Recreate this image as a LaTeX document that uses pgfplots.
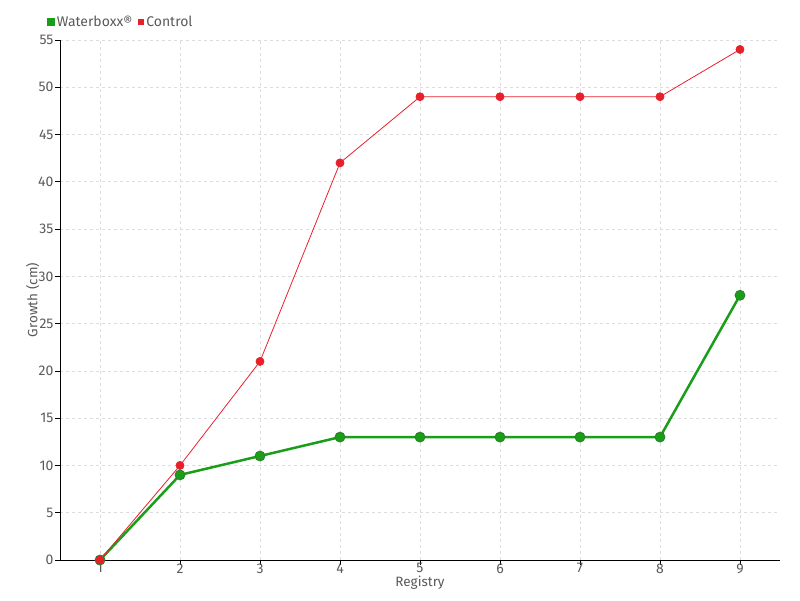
\documentclass[border=0pt]{standalone}
\usepackage{pgfplots}
\pgfplotsset{compat=1.18}
\usepackage{fontspec}
\setmainfont{Fira Sans}
\definecolor{txt}{HTML}{5A5A5A}
\definecolor{grn}{HTML}{1A9E1A}
\definecolor{grnd}{HTML}{2E7D2E}
\definecolor{rd}{HTML}{E8202A}
\definecolor{gridc}{HTML}{DDDDDD}
\begin{document}
\begin{tikzpicture}[x=1pt,y=1pt]
\useasboundingbox (0,0) rectangle (800,600);
\begin{axis}[
  at={(60pt,40pt)}, anchor=south west,
  scale only axis, width=720pt, height=520pt,
  xmin=0.5, xmax=9.5, ymin=0, ymax=55,
  xtick={1,...,9}, ytick={0,5,...,55},
  axis x line*=bottom, axis y line*=left,
  axis line style={black, line width=1pt},
  tick style={black, line width=0.8pt},
  tick align=outside, major tick length=5pt,
  grid=major,
  major grid style={gridc, dashed, line width=0.8pt},
  tick label style={font=\fontsize{14}{14}\selectfont, text=txt},
  xticklabel style={yshift=5pt},
  yticklabel style={xshift=2pt},
  /pgf/number format/assume math mode=true,
  xlabel={Registry}, ylabel={Growth (cm)},
  label style={font=\fontsize{13.5}{13.5}\selectfont, text=txt},
  xlabel style={yshift=4pt},
  ylabel style={yshift=-8pt},
  legend style={at={(rel axis cs:-0.022,1.035)}, anchor=west, draw=none, fill=none,
    font=\fontsize{14}{14}\selectfont, text=txt, legend columns=2,
    /tikz/every even column/.append style={column sep=4pt}},
  legend image code/.code={\fill[#1] (0pt,-2.5pt) rectangle (5pt,2.5pt);},
  clip=false,
]
\addplot[grn, line width=2.5pt, mark=*, mark size=5pt, mark options={fill=grn, draw=grnd, line width=0.8pt}]
  coordinates {(1,0) (2,9) (3,11) (4,13) (5,13) (6,13) (7,13) (8,13) (9,28)};
\addlegendentry{Waterboxx®}
\addplot[rd, line width=0.8pt, mark=*, mark size=4pt, mark options={fill=rd, draw=rd}]
  coordinates {(1,0) (2,10) (3,21) (4,42) (5,49) (6,49) (7,49) (8,49) (9,54)};
\addlegendentry{Control}
\end{axis}
\end{tikzpicture}
\end{document}
